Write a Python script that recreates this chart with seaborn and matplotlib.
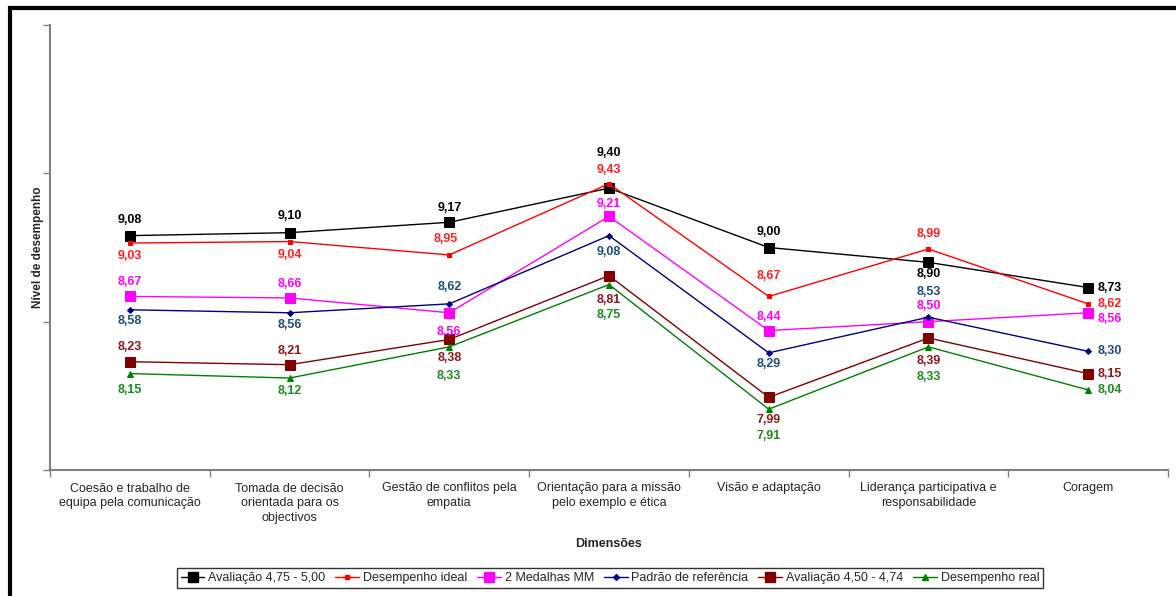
import matplotlib
matplotlib.use("Agg")
import matplotlib.pyplot as plt
from matplotlib.lines import Line2D
import seaborn as sns
import pandas as pd

categories = [
    "Coesão e trabalho de\nequipa pela comunicação",
    "Tomada de decisão\norientada para os\nobjectivos",
    "Gestão de conflitos pela\nempatia",
    "Orientação para a missão\npelo exemplo e ética",
    "Visão e adaptação",
    "Liderança participativa e\nresponsabilidade",
    "Coragem",
]

series_names = [
    "Avaliação 4,75 - 5,00",
    "Desempenho ideal",
    "2 Medalhas MM",
    "Padrão de referência",
    "Avaliação 4,50 - 4,74",
    "Desempenho real",
]

aval_475_500 = [9.08, 9.10, 9.17, 9.40, 9.00, 8.90, 8.73]
desempenho_ideal = [9.03, 9.04, 8.95, 9.43, 8.67, 8.99, 8.62]
medalhas_mm = [8.67, 8.66, 8.56, 9.21, 8.44, 8.50, 8.56]
padrao_referencia = [8.58, 8.56, 8.62, 9.08, 8.29, 8.53, 8.30]
aval_450_474 = [8.23, 8.21, 8.38, 8.81, 7.99, 8.39, 8.15]
desempenho_real = [8.15, 8.12, 8.33, 8.75, 7.91, 8.33, 8.04]

series_values = [aval_475_500, desempenho_ideal, medalhas_mm,
                 padrao_referencia, aval_450_474, desempenho_real]

# line colour, marker, marker size (points), label colour
styles = [
    ("#000000", "s", 7.0, "#000000"),
    ("#FF0000", "s", 3.5, "#FF2020"),
    ("#FF00FF", "s", 7.0, "#FF00FF"),
    ("#000080", "D", 3.0, "#1F4E79"),
    ("#800000", "s", 7.0, "#8B1A1A"),
    ("#008000", "^", 4.5, "#1E8C1E"),
]

# value-label offsets in pixels (dx, dy)
label_offsets = [
    [(0, 16), (0, 17), (0, 14), (0, 35), (0, 16), (0, -12), (9, 0)],
    [(0, -13), (0, -13), (-4, 16), (0, 14), (0, 20), (0, 15), (9, 0)],
    [(0, 14), (0, 14), (0, -19), (0, 12), (0, 14), (0, 16), (9, -6)],
    [(0, -11), (0, -12), (0, 17), (0, -16), (0, -11), (0, 25), (9, 0)],
    [(0, 15), (0, 14), (0, -19), (0, -24), (0, -23), (0, -23), (9, 0)],
    [(0, -16), (0, -13), (0, -29), (0, -30), (0, -27), (0, -30), (9, 0)],
]

sns.set_theme(style="white")
plt.rcParams["font.family"] = ["Liberation Sans", "DejaVu Sans"]

W, H = 1176, 596
fig = plt.figure(figsize=(W / 100, H / 100), dpi=100)
ax = fig.add_axes([50 / W, 126 / H, 1118 / W, 445 / H])

positions = list(range(len(categories)))
frames = []
for name, vals in zip(series_names, series_values):
    frames.append(pd.DataFrame({"pos": positions, "valor": vals, "serie": name}))
df = pd.concat(frames, ignore_index=True)

for name, (color, marker, ms, _) in zip(series_names, styles):
    sub = df[df["serie"] == name]
    sns.lineplot(data=sub, x="pos", y="valor", ax=ax, color=color,
                 marker=marker, markersize=ms, markeredgecolor=color,
                 markerfacecolor=color, linewidth=1.0, legend=False,
                 zorder=3)

# value labels
for si, (vals, (_, _, _, lcolor)) in enumerate(zip(series_values, styles)):
    for ci, v in enumerate(vals):
        dx, dy = label_offsets[si][ci]
        ha = "left" if dx > 5 else "center"
        ax.annotate(f"{v:.2f}".replace(".", ","), (ci, v),
                    xytext=(dx, dy), textcoords="offset pixels",
                    ha=ha, va="center", fontsize=9, fontweight="bold",
                    color=lcolor, zorder=5)

ax.set_xlim(-0.5, len(categories) - 0.5)
ax.set_ylim(7.5, 10.5)
ax.set_yticks([7.5, 8.5, 9.5, 10.5])
ax.set_yticklabels([])
ax.set_xticks([i - 0.5 for i in range(len(categories) + 1)])
ax.set_xticklabels([])
ax.set_xticks(positions, minor=True)
ax.set_xticklabels(categories, minor=True, fontsize=9, linespacing=1.3)
ax.tick_params(axis="x", which="minor", length=0, pad=9)
ax.tick_params(axis="both", which="major", direction="out", length=5,
               width=1, color="#808080")
ax.tick_params(axis="y", left=True)
ax.tick_params(axis="x", bottom=True)

for side in ("top", "right"):
    ax.spines[side].set_visible(False)
for side in ("left", "bottom"):
    ax.spines[side].set_color("#808080")
    ax.spines[side].set_linewidth(1.5)

ax.set_xlabel("Dimensões", fontsize=9, fontweight="bold", labelpad=10)
ax.set_ylabel("Nível de desempenho", fontsize=8.5, fontweight="bold")
ax.yaxis.set_label_coords(-6 / 1118, 0.5)

handles = [Line2D([0], [0], color=c, marker=m, markersize=ms,
                  markerfacecolor=c, markeredgecolor=c, linewidth=1.0)
           for (c, m, ms, _) in styles]
leg = fig.legend(handles, series_names, loc="center",
                 bbox_to_anchor=(610 / W, 1 - 578 / H), ncol=6, fontsize=9,
                 frameon=True, fancybox=False, edgecolor="#000000",
                 handlelength=1.9, handletextpad=0.3, columnspacing=0.8,
                 borderpad=0.3, borderaxespad=0.2)
leg.get_frame().set_linewidth(1.0)

# outer frame strokes along the top and left edges
fig.add_artist(Line2D([8 / W, 1.0], [1 - 8 / H, 1 - 8 / H], color="black",
                      linewidth=3.0, solid_capstyle="butt",
                      transform=fig.transFigure))
fig.add_artist(Line2D([10 / W, 10 / W], [0.0, 1 - 6 / H], color="black",
                      linewidth=3.0, solid_capstyle="butt",
                      transform=fig.transFigure))

fig.savefig("out.png", dpi=100, facecolor="white")
